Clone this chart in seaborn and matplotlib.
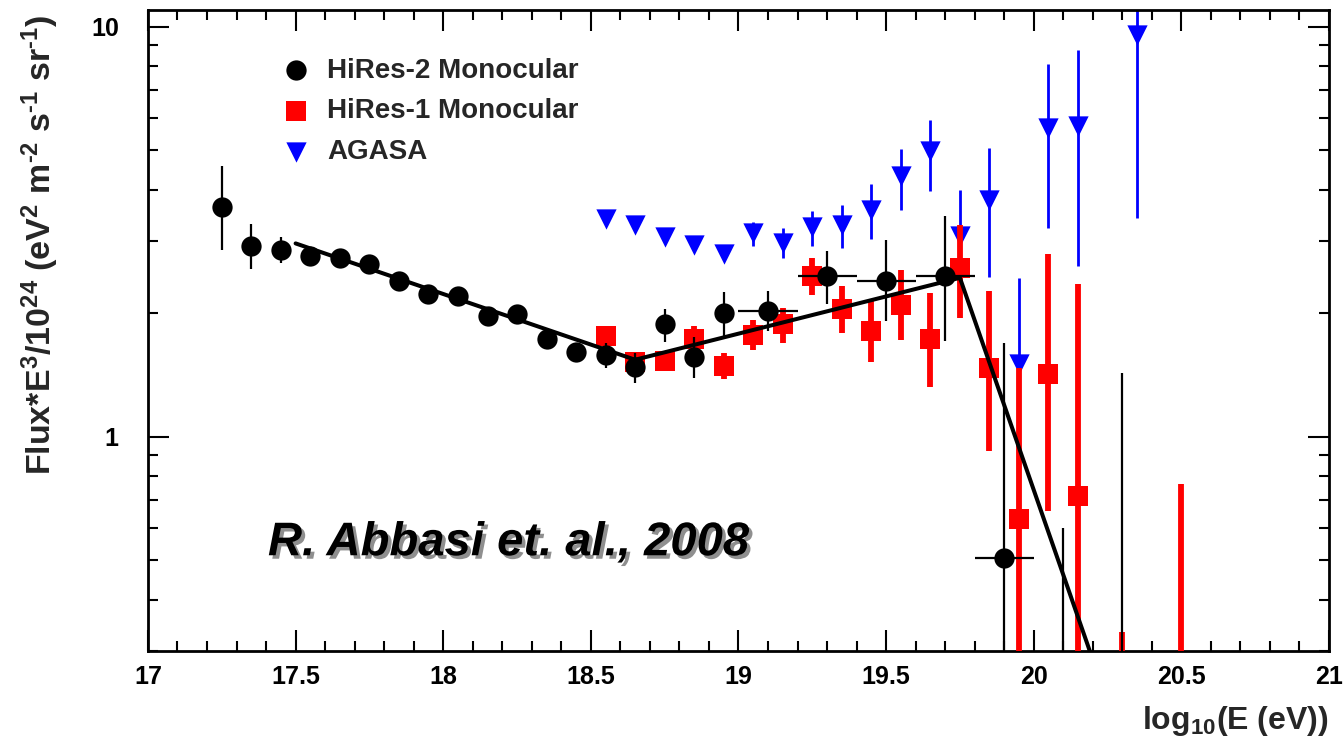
import matplotlib
matplotlib.use("Agg")
import matplotlib.pyplot as plt
import matplotlib.patheffects as pe
from matplotlib.ticker import MultipleLocator, FixedLocator, LogLocator, FuncFormatter, NullFormatter
import seaborn as sns

# ---- HiRes-2 monocular spectrum (log10 E, flux*E^3/1e24, error band) ----
hires2_logE = [17.25, 17.35, 17.45, 17.55, 17.65, 17.75, 17.85, 17.95, 18.05, 18.15,
               18.25, 18.35, 18.45, 18.55, 18.65, 18.75, 18.85, 18.95, 19.10, 19.30,
               19.50, 19.70, 19.90]
hires2_flux = [3.63, 2.91, 2.86, 2.76, 2.73, 2.63, 2.39, 2.23, 2.20, 1.97,
               1.99, 1.73, 1.61, 1.58, 1.48, 1.88, 1.56, 2.00, 2.03, 2.46,
               2.40, 2.46, 0.507]
hires2_lo = [2.85, 2.57, 2.65, 2.68, 2.66, 2.56, 2.33, 2.18, 2.15, 1.93,
             1.95, 1.69, 1.52, 1.47, 1.35, 1.70, 1.39, 1.76, 1.81, 2.11,
             1.91, 1.71, 0.10]
hires2_hi = [4.58, 3.31, 3.07, 2.84, 2.80, 2.70, 2.45, 2.28, 2.25, 2.01,
             2.03, 1.77, 1.68, 1.69, 1.60, 2.05, 1.75, 2.25, 2.26, 2.84,
             3.02, 3.46, 1.69]
hires2_xerr = [0.0] * 18 + [0.1, 0.1, 0.1, 0.1, 0.1]
# empty HiRes-2 bins: only the upper error reaches the plotted range
hires2_empty_logE = [20.10, 20.30]
hires2_empty_hi = [0.60, 1.43]

# ---- HiRes-1 monocular spectrum ----
hires1_logE = [18.55, 18.65, 18.75, 18.85, 18.95, 19.05, 19.15, 19.25, 19.35, 19.45,
               19.55, 19.65, 19.75, 19.85, 19.95, 20.05, 20.15]
hires1_flux = [1.76, 1.52, 1.53, 1.73, 1.49, 1.77, 1.88, 2.46, 2.05, 1.81,
               2.10, 1.73, 2.58, 1.47, 0.628, 1.42, 0.718]
hires1_lo = [1.70, 1.47, 1.48, 1.65, 1.38, 1.63, 1.69, 2.21, 1.79, 1.52,
             1.72, 1.32, 1.95, 0.92, 0.10, 0.66, 0.10]
hires1_hi = [1.82, 1.57, 1.58, 1.86, 1.60, 1.93, 2.06, 2.72, 2.33, 2.15,
             2.55, 2.24, 3.29, 2.27, 1.47, 2.79, 2.36]
hires1_empty_logE = [20.30, 20.50]
hires1_empty_hi = [0.333, 0.768]

# ---- AGASA spectrum ----
agasa_logE = [18.55, 18.65, 18.75, 18.85, 18.95, 19.05, 19.15, 19.25, 19.35, 19.45,
              19.55, 19.65, 19.75, 19.85, 19.95, 20.05, 20.15, 20.35]
agasa_flux = [3.39, 3.29, 3.07, 2.94, 2.79, 3.13, 2.97, 3.25, 3.29, 3.58,
              4.33, 4.96, 3.09, 3.77, 1.50, 5.67, 5.73, 9.56]
agasa_lo = [3.36, 3.26, 3.04, 2.91, 2.76, 2.92, 2.73, 2.92, 2.89, 3.04,
            3.58, 3.98, 3.00, 2.45, 1.29, 3.23, 2.60, 3.42]
agasa_hi = [3.42, 3.32, 3.10, 2.97, 2.82, 3.33, 3.22, 3.56, 3.68, 4.14,
            5.04, 5.93, 4.00, 5.07, 2.44, 8.12, 8.79, 13.0]

# ---- broken power-law fit ----
fit_logE = [17.50, 18.65, 19.75, 20.22]
fit_flux = [2.96, 1.54, 2.44, 0.26]

x_limits = (17.0, 21.0)
y_limits = (0.30, 11.0)

sns.set_theme(style="ticks")
plt.rcParams["font.family"] = ["Liberation Sans", "DejaVu Sans"]
plt.rcParams["font.weight"] = "bold"
plt.rcParams["mathtext.fontset"] = "custom"
plt.rcParams["mathtext.rm"] = "Liberation Sans:bold"
plt.rcParams["mathtext.bf"] = "Liberation Sans:bold"
plt.rcParams["mathtext.default"] = "bf"

fig = plt.figure(figsize=(13.44, 7.44), dpi=100)
ax = fig.add_axes([0.1101, 0.125, 0.8787, 0.862])
ax.set_yscale("log")
ax.set_xlim(*x_limits)
ax.set_ylim(*y_limits)

MS = 14.6
S = MS ** 2


def yerr_of(vals, lo, hi):
    return [[v - l for v, l in zip(vals, lo)], [h - v for v, h in zip(vals, hi)]]


# AGASA: blue down-pointing triangles
ax.errorbar(agasa_logE, agasa_flux, yerr=yerr_of(agasa_flux, agasa_lo, agasa_hi),
            fmt="none", ecolor="#0000ff", elinewidth=2.0, capsize=0, zorder=2)
sns.scatterplot(x=agasa_logE, y=agasa_flux, marker="v", s=S, color="#0000ff",
                linewidth=0, ax=ax, zorder=3, label="AGASA")

# HiRes-1: red squares with thick error bars
ax.errorbar(hires1_logE, hires1_flux, yerr=yerr_of(hires1_flux, hires1_lo, hires1_hi),
            fmt="none", ecolor="#ff0000", elinewidth=4.2, capsize=0, zorder=4)
ax.vlines(hires1_empty_logE, y_limits[0] / 3, hires1_empty_hi, colors="#ff0000",
          linewidth=4.2, zorder=4)
sns.scatterplot(x=hires1_logE, y=hires1_flux, marker="s", s=S, color="#ff0000",
                linewidth=0, ax=ax, zorder=5, label="HiRes-1 Monocular")

# HiRes-2: black circles with thin error bars
ax.errorbar(hires2_logE, hires2_flux, yerr=yerr_of(hires2_flux, hires2_lo, hires2_hi),
            xerr=hires2_xerr, fmt="none", ecolor="black", elinewidth=1.6, capsize=0,
            zorder=6)
ax.vlines(hires2_empty_logE, y_limits[0] / 3, hires2_empty_hi, colors="black",
          linewidth=1.6, zorder=6)
sns.scatterplot(x=hires2_logE, y=hires2_flux, marker="o", s=S, color="black",
                linewidth=0, ax=ax, zorder=7, label="HiRes-2 Monocular")

# fit line
sns.lineplot(x=fit_logE, y=fit_flux, color="black", linewidth=2.9, sort=False,
             estimator=None, ax=ax, zorder=8, legend=False)

# axes frame and ticks
for sp in ax.spines.values():
    sp.set_visible(True)
    sp.set_linewidth(2.0)
    sp.set_color("black")
ax.xaxis.set_major_locator(MultipleLocator(0.5))
ax.xaxis.set_minor_locator(MultipleLocator(0.1))
ax.xaxis.set_major_formatter(FuncFormatter(lambda v, p: f"{v:g}"))
ax.yaxis.set_major_locator(FixedLocator([1, 10]))
ax.yaxis.set_minor_locator(LogLocator(base=10, subs=[2, 3, 4, 5, 6, 7, 8, 9]))
ax.yaxis.set_major_formatter(FuncFormatter(lambda v, p: f"{v:g}"))
ax.yaxis.set_minor_formatter(NullFormatter())
ax.tick_params(which="both", direction="in", top=True, right=True, width=1.5,
               color="black", labelcolor="black", labelsize=18)
ax.tick_params(which="major", length=15)
ax.tick_params(which="minor", length=7.5)
ax.tick_params(axis="x", which="major", pad=10)
ax.tick_params(axis="y", which="major", pad=21)
for lab in ax.get_xticklabels() + ax.get_yticklabels():
    lab.set_fontweight("bold")

ax.set_xlabel(r"log$_{10}$(E (eV))", fontsize=23, fontweight="bold", ha="right")
ax.xaxis.set_label_coords(1.0, -0.082)
ax.set_ylabel("Flux*E$^{3}$/10$^{24}$ (eV$^{2}$ m$^{\u20102}$ s$^{\u20101}$ sr$^{\u20101}$)",
              fontsize=24.5, fontweight="bold")
ax.yaxis.set_label_coords(-0.0735, 0.633)

# legend: markers only
handles, labels = ax.get_legend_handles_labels()
order = ["HiRes-2 Monocular", "HiRes-1 Monocular", "AGASA"]
hmap = dict(zip(labels, handles))
ax.legend([hmap[k] for k in order], order, loc="upper left",
          bbox_to_anchor=(0.1135, 0.925), frameon=False, borderpad=0, borderaxespad=0,
          handlelength=1.0, handletextpad=0.615, labelspacing=0.53, scatterpoints=1,
          prop={"size": 20, "weight": "bold"})

ax.text(0.1016, 0.168, "R. Abbasi et. al., 2008", transform=ax.transAxes,
        fontsize=34, fontweight="bold", fontstyle="italic", ha="left", va="center",
        color="black", zorder=9,
        path_effects=[pe.SimplePatchShadow(offset=(2.5, -2.5), shadow_rgbFace=(0.45, 0.45, 0.45),
                                           alpha=0.8), pe.Normal()])

fig.savefig("out.png", dpi=100, facecolor="white")
